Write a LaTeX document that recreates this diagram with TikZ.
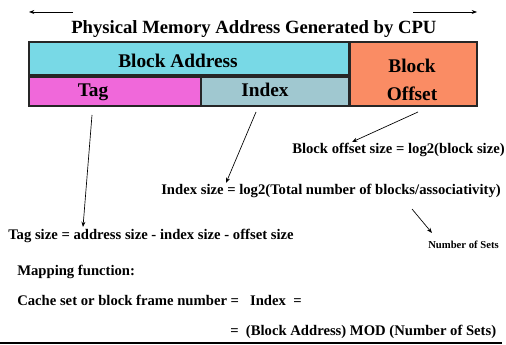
\documentclass[tikz,border=0pt]{standalone}
\usepackage{fontspec}
\setmainfont{Liberation Serif}
\usetikzlibrary{arrows.meta}
\definecolor{addrcol}{RGB}{120,217,230}
\definecolor{tagcol}{RGB}{240,104,218}
\definecolor{idxcol}{RGB}{160,200,208}
\definecolor{offcol}{RGB}{250,140,100}
\def\titlefont{\fontsize{14}{16}\selectfont\bfseries}
\def\cellfont{\fontsize{14.5}{16}\selectfont\bfseries}
\def\bodyfont{\fontsize{11}{13}\selectfont\bfseries}
\def\smallfont{\fontsize{8}{10}\selectfont\bfseries}
\tikzset{
	cell/.style={line width=1.2pt, draw=black!85},
	celltxt/.style={anchor=base, inner sep=0pt, font=\cellfont},
	txt/.style={anchor=base west, inner sep=0pt, font=\bodyfont},
	pointer/.style={line width=0.5pt, -{Stealth[length=4pt,width=3pt]}}
}

\begin{document}
\begin{tikzpicture}[x=0.75pt, y=-0.75pt]
		%%%%% START %%%%%
		\useasboundingbox (0, 0) rectangle (506, 345);
		
		\coordinate (wl) at (73, 12);
		\coordinate (wle) at (29, 12);
		\coordinate (wr) at (413, 12);
		\coordinate (wre) at (477, 12);
		\draw[pointer] (wl) -- (wle);
		\draw[pointer] (wr) -- (wre);
		\node[anchor=base west, inner sep=0pt, font=\titlefont] (title) at (71, 34) {Physical Memory Address Generated by CPU};
		
		\draw[cell, fill=addrcol] (29, 42) rectangle (349, 75);
		\draw[cell, fill=tagcol] (29, 77) rectangle (201, 106);
		\draw[cell, fill=idxcol] (201, 77) rectangle (349, 106);
		\draw[cell, fill=offcol] (350, 42) rectangle (477, 106);
		
		\node[celltxt] (blockaddr) at (178, 68) {Block Address};
		\node[celltxt] (tag) at (93, 97) {Tag};
		\node[celltxt] (index) at (265, 97) {Index};
		\node[celltxt] (block) at (412, 73) {Block};
		\node[celltxt] (offset) at (412, 101) {Offset};
		
		\node[txt] (offsize) at (292, 154) {Block offset size = log2(block size)};
		\node[txt] (idxsize) at (161, 195) {Index size = log2(Total number of blocks/associativity)};
		\node[txt] (tagsize) at (8, 239) {Tag size = address size - index size - offset size};
		\node[txt, font=\smallfont] (nsets) at (428, 248) {Number of Sets};
		\node[txt] (mapping) at (17, 275) {Mapping function:};
		\node[txt] (cacheset) at (17, 305) {Cache set or block frame number = \ \ Index \ =};
		\node[txt] (modline) at (230, 335) {= \ (Block Address) MOD (Number of Sets)};
		
		\coordinate (tagfrom) at (92, 115);
		\coordinate (tagto) at (83, 227);
		\coordinate (idxfrom) at (256, 112);
		\coordinate (idxto) at (226, 183);
		\coordinate (offfrom) at (418, 112);
		\coordinate (offto) at (352, 142);
		\coordinate (setfrom) at (412, 209);
		\coordinate (setto) at (432, 233);
		\draw[pointer] (tagfrom) -- (tagto);
		\draw[pointer] (idxfrom) -- (idxto);
		\draw[pointer] (offfrom) -- (offto);
		\draw[pointer] (setfrom) -- (setto);
		
		\draw[line width=2.2pt] (0, 343) -- (502, 343);
		%%%%% END %%%%%
	\end{tikzpicture}
\end{document}
